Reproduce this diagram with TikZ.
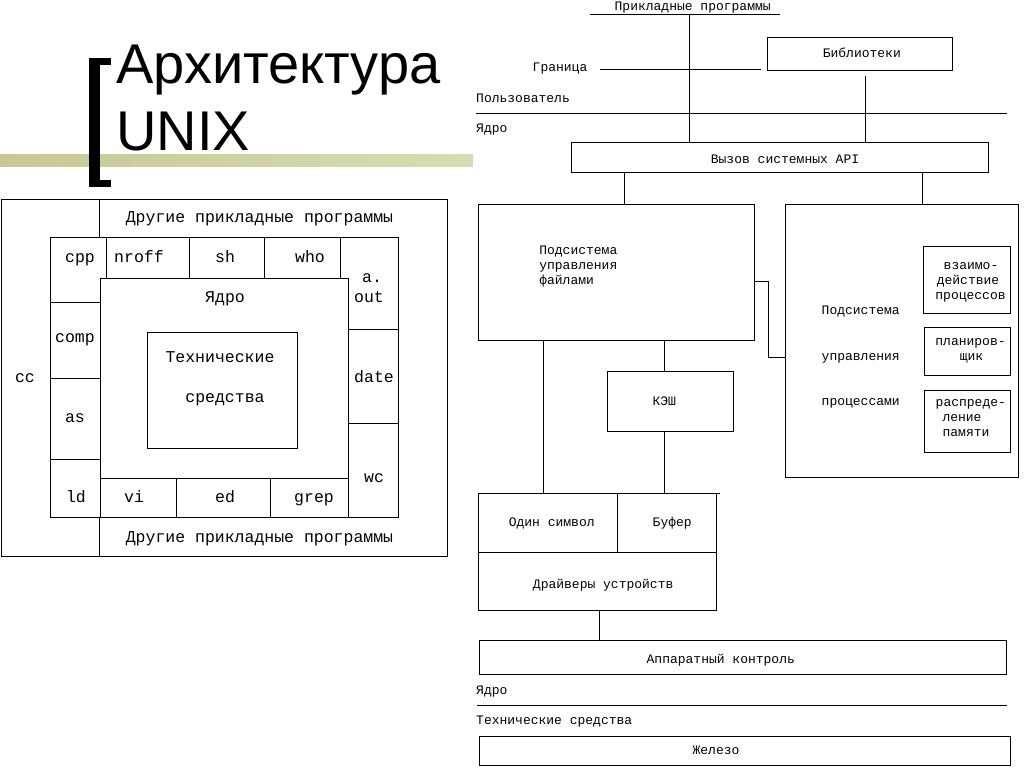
\documentclass[tikz,border=0pt]{standalone}
\usepackage{fontspec}
\newfontfamily\titlefont{Liberation Sans}
\newfontfamily\monofont{Liberation Mono}
\usetikzlibrary{fit}
\begin{document}
\begin{tikzpicture}[x=1pt,y=-1pt,
  lbl/.style={font=\monofont\fontsize{16.5}{18}\selectfont, inner sep=0, anchor=base, yshift=-4.5pt},
  rlbl/.style={font=\monofont\fontsize{13}{15}\selectfont, inner sep=0, anchor=base, yshift=-4pt},
  rlblw/.style={rlbl, anchor=base west},
  box/.style={draw, line width=1pt, inner sep=0pt},
  ln/.style={line width=1pt}]
\useasboundingbox (0,0) rectangle (1024,768);

% ---------- title ----------
\shade[left color={rgb,255:red,200;green,200;blue,148}, right color={rgb,255:red,216;green,220;blue,180}] (0,154) rectangle (473,166);
\fill[black] (89,58) rectangle (100,187);
\fill[black] (89,58) rectangle (111,65);
\fill[black] (89,180) rectangle (111,187);
\node[font=\titlefont\fontsize{56}{60}\selectfont, inner sep=0, anchor=base west] (t1) at (116,83) {Архитектура};
\node[font=\titlefont\fontsize{56}{60}\selectfont, inner sep=0, anchor=base west] (t2) at (116,150) {UNIX};

% ---------- left diagram ----------
\node[box, fit={(1,199.5) (447,556.5)}] (outer) {};
\node[box, fit={(50,237.5) (398,517.5)}] (ring) {};
\node[box, fit={(100,278.5) (348,478.5)}] (kern) {};
\node[box, fit={(147.5,332.5) (297.5,448.5)}] (hw) {};
\draw[ln] (99.5,199.5) -- (99.5,237.5);
\draw[ln] (99.5,517.5) -- (99.5,556.5);
\foreach \xx in {106.5,189,264,340} \draw[ln] (\xx,237.5) -- (\xx,278.5);
\foreach \yy in {302.5,378.5,459.5} \draw[ln] (50,\yy) -- (100,\yy);
\foreach \xx in {100,176.5,270,348} \draw[ln] (\xx,478.5) -- (\xx,517.5);
\foreach \yy in {329.5,423.5} \draw[ln] (348,\yy) -- (398,\yy);

\node[lbl] (otop) at (259.5,218) {Другие прикладные программы};
\node[lbl] (obot) at (259.5,538) {Другие прикладные программы};
\node[lbl] (cpp) at (80,258) {cpp};
\node[lbl] (nroff) at (139,258) {nroff};
\node[lbl] (sh) at (225,258) {sh};
\node[lbl] (who) at (310,258) {who};
\node[lbl] (aout1) at (372,278) {a.};
\node[lbl] (aout2) at (369,298) {out};
\node[lbl] (kl) at (225,298) {Ядро};
\node[lbl] (comp) at (75,338) {comp};
\node[lbl] (cc) at (25,378) {cc};
\node[lbl] (hw1) at (220,358) {Технические};
\node[lbl] (hw2) at (225,398) {средства};
\node[lbl] (date) at (374,378) {date};
\node[lbl] (as) at (75,418) {as};
\node[lbl] (wc) at (374,478) {wc};
\node[lbl] (ld) at (76,498) {ld};
\node[lbl] (vi) at (134,498) {vi};
\node[lbl] (ed) at (225,498) {ed};
\node[lbl] (grep) at (314,498) {grep};

% ---------- right diagram ----------
\node[rlbl] (apps) at (692.7,7) {Прикладные программы};
\coordinate (ul1) at (589.5,14.5);
\coordinate (ul2) at (780,14.5);
\draw[ln] (ul1) -- (ul2);
\coordinate (appsx) at (689.5,14.5);

\node[box, fit={(767.5,37.5) (952.5,70.5)}] (lib) {};
\node[rlbl] (libt) at (861.8,53) {Библиотеки};
\node[rlbl] (gran) at (560,67) {Граница};
\coordinate (g1) at (599.6,69.5);
\coordinate (g2) at (761.4,69.5);
\draw[ln] (g1) -- (g2);
\coordinate (libx) at (865.5,76);

\node[rlblw] (user) at (476,98) {Пользователь};
\coordinate (uk1) at (476,113.5);
\coordinate (uk2) at (1006.8,113.5);
\draw[ln] (uk1) -- (uk2);
\node[rlblw] (kern1) at (476,128) {Ядро};

\node[box, fit={(571.5,142.5) (988,172.5)}] (api) {};
\node[rlbl] (apit) at (785,159) {Вызов системных API};
\draw[ln] (appsx) -- (appsx |- api.north);
\draw[ln] (libx) -- (libx |- api.north);

\node[box, fit={(478,204.5) (754.5,340.5)}] (fs) {};
\node[rlblw] (fs1) at (539.1,250) {Подсистема};
\node[rlblw] (fs2) at (539.1,265) {управления};
\node[rlblw] (fs3) at (539.1,280) {файлами};

\node[box, fit={(785.5,204.5) (1018.5,477.5)}] (ps) {};
\node[rlblw] (ps1) at (821.5,310) {Подсистема};
\node[rlblw] (ps2) at (821.5,356.7) {управления};
\node[rlblw] (ps3) at (821.5,401.7) {процессами};

\node[box, fit={(923.5,246.5) (1010.5,313.5)}] (b1) {};
\node[rlbl] (b1a) at (971,265) {взаимо-};
\node[rlbl] (b1b) at (968,280) {действие};
\node[rlbl] (b1c) at (970.5,295) {процессов};
\node[box, fit={(924.5,327.5) (1010.5,375.5)}] (b2) {};
\node[rlbl] (b2a) at (970.5,341.7) {планиров-};
\node[rlbl] (b2b) at (971.5,356.7) {щик};
\node[box, fit={(924.5,390.5) (1010.5,452.5)}] (b3) {};
\node[rlbl] (b3a) at (970.8,402.3) {распреде-};
\node[rlbl] (b3b) at (962,417.3) {ление};
\node[rlbl] (b3c) at (966,432.3) {памяти};

\coordinate (c1) at (624.5,0);
\coordinate (c2) at (922.5,0);
\draw[ln] (c1 |- api.south) -- (c1 |- fs.north);
\draw[ln] (c2 |- api.south) -- (c2 |- ps.north);

\coordinate (e1) at (768.5,281.5);
\coordinate (e2) at (768.5,357.5);
\draw[ln] (e1 -| fs.east) -- (e1) -- (e2) -- (e2 -| ps.west);

\node[box, fit={(607.5,371.5) (733.5,431.5)}] (cache) {};
\node[rlbl] (cachet) at (664.3,401.7) {КЭШ};

\node[box, fit={(478.5,493.5) (716.5,610.5)}] (low) {};
\coordinate (dv) at (617.5,552.5);
\draw[ln] (dv |- low.north) -- (dv);
\draw[ln] (dv -| low.west) -- (dv -| low.east);
\draw[ln] (low.north east) -- ++(3.2,0);
\node[rlbl] (one) at (551.7,522.7) {Один символ};
\node[rlbl] (buf) at (672.2,522.7) {Буфер};
\node[rlbl] (drv) at (603.2,584) {Драйверы устройств};

\coordinate (d1) at (543.5,0);
\coordinate (d2) at (664.5,0);
\draw[ln] (d1 |- fs.south) -- (d1 |- low.north);
\draw[ln] (d2 |- fs.south) -- (d2 |- cache.north);
\draw[ln] (d2 |- cache.south) -- (d2 |- low.north);

\node[box, fit={(479.5,640.5) (1006.5,674.5)}] (hctl) {};
\node[rlbl] (hctlt) at (720.8,659.3) {Аппаратный контроль};
\coordinate (d3) at (599.5,0);
\draw[ln] (d3 |- low.south) -- (d3 |- hctl.north);

\node[rlblw] (kern2) at (476,690.7) {Ядро};
\coordinate (kh1) at (477.3,705.5);
\coordinate (kh2) at (1006.8,705.5);
\draw[ln] (kh1) -- (kh2);
\node[rlblw] (hwt) at (476,720.7) {Технические средства};

\node[box, fit={(479.5,736.5) (1010.5,765.5)}] (iron) {};
\node[rlbl] (iront) at (716,750) {Железо};
\end{tikzpicture}
\end{document}
